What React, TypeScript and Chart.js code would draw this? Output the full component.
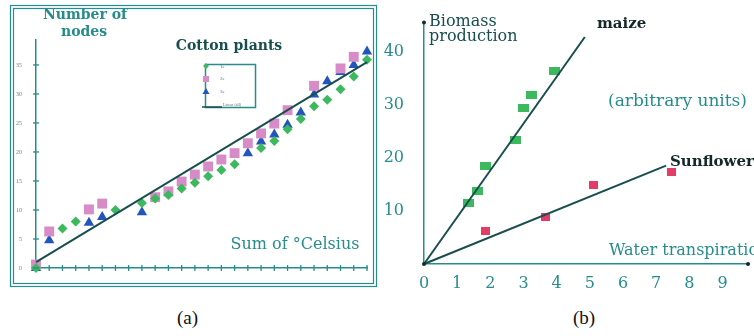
import React, { useEffect, useRef } from 'react';
import { Chart, registerables } from 'chart.js';
Chart.register(...registerables);

// ---- Panel (a): cotton plants, number of nodes vs sum of degrees Celsius ----
const cottonTicksY = [0, 5, 10, 15, 20, 25, 30, 35];
const series1X = [0, 2, 3, 6, 8, 9, 10, 11, 12, 13, 14, 15, 17, 18, 19, 20, 21, 22, 23, 24, 25];
const series1Y = [0, 6.8, 8.0, 10.0, 11.2, 12.0, 12.6, 13.7, 14.7, 15.8, 16.9, 17.9, 20.7, 21.9, 23.9, 25.7, 27.9, 29.0, 30.8, 33.0, 35.9];
const series2X = [0, 1, 4, 5, 9, 10, 11, 12, 13, 14, 15, 16, 17, 18, 19, 21, 23, 24];
const series2Y = [0.6, 6.3, 10.1, 11.1, 12.2, 13.2, 14.9, 16.1, 17.5, 18.7, 19.8, 21.5, 23.2, 24.9, 27.2, 31.4, 34.4, 36.4];
const series3X = [0, 1, 4, 5, 8, 16, 17, 18, 19, 20, 21, 22, 23, 24, 25];
const series3Y = [0, 4.8, 7.8, 8.8, 9.6, 19.8, 21.8, 23.0, 24.7, 26.8, 29.9, 32.2, 33.8, 35.0, 37.3];
const trendX = [0, 25];
const trendY = [1.0, 35.5];
const legendLabels = ['1e', '2e', '3e', 'Linear (all)'];

// ---- Panel (b): biomass production vs water transpiration ----
const maizeX = [1.35, 1.6, 1.85, 2.75, 3.0, 3.25, 3.95];
const maizeY = [11.4, 13.7, 18.5, 23.3, 29.3, 31.7, 36.4];
const sunX = [1.85, 3.65, 5.1, 7.45];
const sunY = [6.3, 8.8, 14.9, 17.3];
const maizeLineX = [0, 4.85];
const maizeLineY = [0, 42.7];
const sunLineX = [0, 7.3];
const sunLineY = [0, 18.5];

const TEAL = 'rgb(38,140,140)';
const DARK = 'rgb(24,78,78)';
const GREEN = 'rgb(60,185,95)';
const PINK = 'rgb(215,140,200)';
const BLUE = 'rgb(35,85,190)';
const RED = 'rgb(228,60,105)';
const SERIF = '"Liberation Serif", "DejaVu Serif", serif';
const WIDE = '"DejaVu Serif", "Liberation Serif", serif';

const pts = (xs: number[], ys: number[]) => xs.map((x, i) => ({ x, y: ys[i] }));

function rectImage(w: number, h: number, color: string) {
  const c = document.createElement('canvas');
  c.width = w;
  c.height = h;
  const g = c.getContext('2d')!;
  g.fillStyle = color;
  g.fillRect(0, 0, w, h);
  return c;
}

const panelAPlugin = {
  id: 'panelA',
  beforeDraw(chart: any) {
    const ctx = chart.ctx;
    ctx.save();
    ctx.strokeStyle = TEAL;
    ctx.lineWidth = 1.2;
    ctx.strokeRect(10.5, 5.5, 366, 281);
    ctx.strokeRect(13.5, 8.5, 360, 275);
    ctx.restore();
  },
  afterDraw(chart: any) {
    const ctx = chart.ctx;
    const xs = chart.scales.x;
    const ys = chart.scales.y;
    ctx.save();
    // crossing tick marks
    ctx.strokeStyle = TEAL;
    ctx.lineWidth = 1.3;
    for (let v = 1; v <= 25; v++) {
      const px = xs.getPixelForValue(v);
      ctx.beginPath();
      ctx.moveTo(px, ys.bottom - 3);
      ctx.lineTo(px, ys.bottom + 3);
      ctx.stroke();
    }
    cottonTicksY.forEach((v) => {
      const py = ys.getPixelForValue(v);
      ctx.beginPath();
      ctx.moveTo(xs.left - 3, py);
      ctx.lineTo(xs.left + 3, py);
      ctx.stroke();
    });
    // texts
    ctx.textBaseline = 'middle';
    ctx.textAlign = 'center';
    ctx.fillStyle = TEAL;
    ctx.font = `bold 14px ${WIDE}`;
    ctx.fillText('Number of', 85, 15);
    ctx.fillText('nodes', 84, 32);
    ctx.fillStyle = DARK;
    ctx.font = `bold 14px ${WIDE}`;
    ctx.fillText('Cotton plants', 229, 46);
    ctx.fillStyle = TEAL;
    ctx.font = `16px ${WIDE}`;
    ctx.fillText('Sum of \u00B0Celsius', 295, 245);
    // legend box
    ctx.strokeStyle = TEAL;
    ctx.lineWidth = 1.5;
    ctx.strokeRect(205.5, 64.5, 50, 43);
    ctx.fillStyle = GREEN;
    ctx.beginPath();
    ctx.moveTo(206, 63); ctx.lineTo(209, 66); ctx.lineTo(206, 69); ctx.lineTo(203, 66); ctx.closePath();
    ctx.fill();
    ctx.fillStyle = PINK;
    ctx.fillRect(203, 76, 6, 6);
    ctx.fillStyle = BLUE;
    ctx.beginPath();
    ctx.moveTo(206, 88); ctx.lineTo(209.5, 94); ctx.lineTo(202.5, 94); ctx.closePath();
    ctx.fill();
    ctx.strokeStyle = DARK;
    ctx.lineWidth = 1.5;
    ctx.beginPath();
    ctx.moveTo(202, 107); ctx.lineTo(222, 107);
    ctx.stroke();
    ctx.fillStyle = 'rgb(90,110,110)';
    ctx.textAlign = 'left';
    ctx.font = `5px ${SERIF}`;
    ctx.fillText(legendLabels[0], 220, 67);
    ctx.fillText(legendLabels[1], 220, 79);
    ctx.fillText(legendLabels[2], 220, 92);
    ctx.font = `4px ${SERIF}`;
    ctx.fillText(legendLabels[3], 223, 105);
    ctx.restore();
  },
};

const panelBPlugin = {
  id: 'panelB',
  afterDraw(chart: any) {
    const ctx = chart.ctx;
    const xs = chart.scales.x;
    const ys = chart.scales.y;
    ctx.save();
    ctx.fillStyle = 'rgb(20,40,40)';
    [[xs.left, ys.top + 1], [xs.right - 1, ys.bottom], [xs.left, ys.bottom]].forEach(([x, y]) => {
      ctx.beginPath();
      ctx.arc(x, y, 2, 0, Math.PI * 2);
      ctx.fill();
    });
    ctx.textBaseline = 'middle';
    ctx.textAlign = 'left';
    ctx.fillStyle = DARK;
    ctx.font = `16px ${WIDE}`;
    ctx.fillText('Biomass', 49, 22);
    ctx.fillText('production', 49, 37);
    ctx.fillStyle = 'rgb(20,40,40)';
    ctx.font = `bold 15px ${WIDE}`;
    ctx.fillText('maize', 217, 24);
    ctx.fillText('Sunflower', 290, 162);
    ctx.fillStyle = TEAL;
    ctx.font = `17px ${WIDE}`;
    ctx.fillText('(arbitrary units)', 228, 102);
    ctx.font = `16px ${WIDE}`;
    ctx.fillText('Water transpiration', 229, 251);
    ctx.restore();
  },
};

export default function App() {
  const refA = useRef<HTMLCanvasElement>(null);
  const refB = useRef<HTMLCanvasElement>(null);

  useEffect(() => {
    document.body.style.margin = '0';
    const chartA = new Chart(refA.current!, {
      type: 'scatter',
      data: {
        datasets: [
          {
            label: 'trend',
            data: pts(trendX, trendY),
            showLine: true,
            borderColor: DARK,
            borderWidth: 2,
            pointRadius: 0,
            clip: false,
          } as any,
          {
            label: legendLabels[0],
            data: pts(series1X, series1Y),
            pointStyle: 'rectRot',
            pointRadius: 5,
            backgroundColor: GREEN,
            borderWidth: 0,
            clip: false,
          },
          {
            label: legendLabels[1],
            data: pts(series2X, series2Y),
            pointStyle: 'rect',
            pointRadius: 7,
            backgroundColor: PINK,
            borderWidth: 0,
            clip: false,
          },
          {
            label: legendLabels[2],
            data: pts(series3X, series3Y),
            pointStyle: 'triangle',
            pointRadius: 6,
            backgroundColor: BLUE,
            borderWidth: 0,
            clip: false,
          },
        ],
      },
      options: {
        animation: false,
        responsive: false,
        layout: { padding: { left: 0, top: 40, right: 13, bottom: 0 } },
        plugins: { legend: { display: false }, tooltip: { enabled: false } },
        scales: {
          x: {
            type: 'linear',
            min: 0,
            max: 25,
            ticks: { display: false, stepSize: 1 },
            grid: { display: false },
            border: { color: TEAL, width: 1.5 },
            afterFit: (s: any) => { s.height = 32; },
          },
          y: {
            type: 'linear',
            min: 0,
            max: 39.3,
            ticks: {
              stepSize: 5,
              includeBounds: false,
              color: 'rgb(110,130,130)',
              font: { size: 6, family: SERIF },
              padding: 6,
            },
            grid: { display: false },
            border: { color: TEAL, width: 1.5 },
            afterFit: (s: any) => { s.width = 36; },
          },
        },
      } as any,
      plugins: [panelAPlugin],
    });

    const chartB = new Chart(refB.current!, {
      type: 'scatter',
      data: {
        datasets: [
          {
            label: 'maize line',
            data: pts(maizeLineX, maizeLineY),
            showLine: true,
            borderColor: DARK,
            borderWidth: 2,
            pointRadius: 0,
            clip: false,
          } as any,
          {
            label: 'sunflower line',
            data: pts(sunLineX, sunLineY),
            showLine: true,
            borderColor: DARK,
            borderWidth: 2,
            pointRadius: 0,
            clip: false,
          } as any,
          {
            label: 'maize',
            data: pts(maizeX, maizeY),
            pointStyle: rectImage(11, 8, GREEN),
            clip: false,
          },
          {
            label: 'Sunflower',
            data: pts(sunX, sunY),
            pointStyle: rectImage(9, 8, RED),
            clip: false,
          },
        ],
      },
      options: {
        animation: false,
        responsive: false,
        layout: { padding: { left: 0, top: 18, right: 1, bottom: 0 } },
        plugins: { legend: { display: false }, tooltip: { enabled: false } },
        scales: {
          x: {
            type: 'linear',
            min: 0,
            max: 9.8,
            ticks: {
              stepSize: 1,
              includeBounds: false,
              color: TEAL,
              font: { size: 16, family: WIDE },
              padding: 2,
              callback: (v: any) => (Number.isInteger(v) && v <= 9 ? String(v) : ''),
            },
            grid: { display: false },
            border: { color: TEAL, width: 1.5 },
            afterFit: (s: any) => { s.height = 36; },
          },
          y: {
            type: 'linear',
            min: 0,
            max: 45.6,
            ticks: {
              stepSize: 10,
              includeBounds: false,
              color: TEAL,
              font: { size: 16, family: WIDE },
              padding: 12,
              callback: (v: any) => (v === 0 ? '' : String(v)),
            },
            grid: { display: false },
            border: { color: TEAL, width: 1.5 },
            afterFit: (s: any) => { s.width = 44; },
          },
        },
      } as any,
      plugins: [panelBPlugin],
    });

    return () => {
      chartA.destroy();
      chartB.destroy();
    };
  }, []);

  return (
    <div style={{ position: 'fixed', left: 0, top: 0, width: 754, height: 336, background: '#fff', overflow: 'hidden' }}>
      <canvas ref={refA} width={380} height={300} style={{ position: 'absolute', left: 0, top: 0, width: 380, height: 300 }} />
      <canvas ref={refB} width={374} height={300} style={{ position: 'absolute', left: 380, top: 0, width: 374, height: 300 }} />
      <div style={{ position: 'absolute', left: 177, top: 307, fontFamily: SERIF, fontSize: 19, lineHeight: '22px', color: '#111' }}>(a)</div>
      <div style={{ position: 'absolute', left: 573, top: 307, fontFamily: SERIF, fontSize: 19, lineHeight: '22px', color: '#111' }}>(b)</div>
    </div>
  );
}
